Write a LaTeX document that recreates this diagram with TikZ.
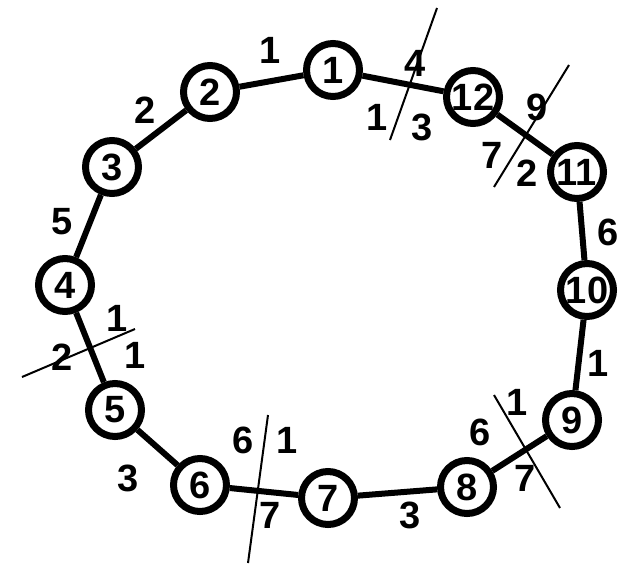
\documentclass[tikz,border=0pt]{standalone}
\usepackage{fontspec}
\setmainfont{Liberation Sans}
\begin{document}
\begin{tikzpicture}[x=1pt, y=-1pt,
    vertex/.style={draw=black, line width=7pt, circle, minimum size=53pt, inner sep=0pt,
        font=\fontsize{38}{44}\selectfont\bfseries},
    edge/.style={draw=black, line width=6pt},
    cut/.style={draw=black, line width=2pt},
    num/.style={inner sep=0pt, font=\fontsize{38}{44}\selectfont\bfseries}]
    \useasboundingbox (0,0) rectangle (628,565);

    % Vertices of the cycle
    \node[vertex] (n1)  at (333,70)  {1};
    \node[vertex] (n2)  at (210,92)  {2};
    \node[vertex] (n3)  at (112,167) {3};
    \node[vertex] (n4)  at (65,285)  {4};
    \node[vertex] (n5)  at (115,410) {5};
    \node[vertex] (n6)  at (200,485) {6};
    \node[vertex] (n7)  at (328,498) {7};
    \node[vertex] (n8)  at (467,487) {8};
    \node[vertex] (n9)  at (572,420) {9};
    \node[vertex] (n10) at (587,290) {10};
    \node[vertex] (n11) at (577,172) {11};
    \node[vertex] (n12) at (473,97)  {12};

    % Edges
    \foreach \a/\b in {n1/n2, n2/n3, n3/n4, n4/n5, n5/n6, n6/n7, n7/n8, n8/n9, n9/n10, n10/n11, n11/n12, n12/n1}
        \draw[edge] (\a) -- (\b);

    % Edge weights
    \node[num] (w12)  at (270,50)  {1};
    \node[num] (w23)  at (145,110) {2};
    \node[num] (w34)  at (62,222)  {5};
    \node[num] (w56)  at (128,478) {3};
    \node[num] (w78)  at (410,515) {3};
    \node[num] (w910) at (598,363) {1};
    \node[num] (w1011) at (608,232) {6};

    % Cuts
    \coordinate (c1a) at (390,140); \coordinate (c1b) at (437,8);
    \coordinate (c2a) at (494,187); \coordinate (c2b) at (569,65);
    \coordinate (c3a) at (22,377);  \coordinate (c3b) at (135,329);
    \coordinate (c4a) at (248,563); \coordinate (c4b) at (268,415);
    \coordinate (c5a) at (494,395); \coordinate (c5b) at (560,508);
    \foreach \p/\q in {c1a/c1b, c2a/c2b, c3a/c3b, c4a/c4b, c5a/c5b}
        \draw[cut] (\p) -- (\q);

    % Cut labels
    \node[num] (l1a) at (415,63)  {4};
    \node[num] (l1b) at (377,117) {1};
    \node[num] (l1c) at (422,127) {3};
    \node[num] (l2a) at (537,107) {9};
    \node[num] (l2b) at (492,155) {7};
    \node[num] (l2c) at (527,173) {2};
    \node[num] (l3a) at (117,318) {1};
    \node[num] (l3b) at (62,357)  {2};
    \node[num] (l3c) at (135,355) {1};
    \node[num] (l4a) at (243,440) {6};
    \node[num] (l4b) at (287,440) {1};
    \node[num] (l4c) at (270,515) {7};
    \node[num] (l5a) at (517,402) {1};
    \node[num] (l5b) at (480,432) {6};
    \node[num] (l5c) at (525,478) {7};
\end{tikzpicture}
\end{document}
